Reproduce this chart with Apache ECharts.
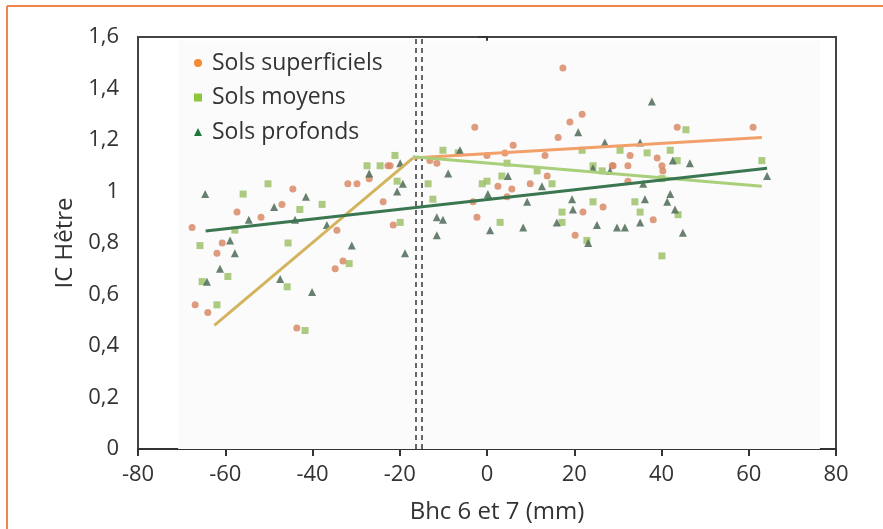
<!DOCTYPE html>
<html><head><meta charset="utf-8">
<script src="https://cdn.jsdelivr.net/npm/echarts@6/dist/echarts.min.js"></script>
<style>html,body{margin:0;padding:0;background:#fff}#c{width:883px;height:529px}</style>
</head><body><div id="c"></div>
<script>
// Tick labels
const xTicks = [-80, -60, -40, -20, 0, 20, 40, 60, 80];
const yTicks = [0, 0.2, 0.4, 0.6, 0.8, 1, 1.2, 1.4, 1.6];
const seriesNames = ['Sols superficiels', 'Sols moyens', 'Sols profonds'];

// Sols superficiels [Bhc, IC]
const superficiels = [
  [-44.5,1.01],[-47.0,0.95],[-57.3,0.92],[-51.8,0.90],[-67.6,0.86],[-34.4,0.85],[-60.7,0.80],
  [-61.9,0.76],[-33.0,0.73],[-34.8,0.70],[-66.9,0.56],[-64.0,0.53],[-43.6,0.47],[-31.9,1.03],
  [-29.8,1.03],[-27.0,1.05],[-22.7,1.10],[-23.8,0.96],[-21.5,0.87],[-13.1,1.12],[-11.5,1.11],
  [17.4,1.48],[-2.8,1.25],[21.8,1.30],[19.0,1.27],[16.3,1.21],[6.0,1.18],[13.3,1.14],[4.1,1.15],
  [0.0,1.14],[-22.2,1.10],[2.5,1.02],[5.7,1.01],[9.9,1.03],[13.8,1.06],[28.7,1.10],[32.3,1.10],
  [4.6,0.98],[-3.2,0.96],[26.6,0.94],[22.0,0.92],[-2.3,0.90],[20.2,0.83],[43.6,1.25],[61.0,1.25],
  [32.8,1.14],[39.0,1.13],[28.9,1.10],[40.1,1.10],[40.3,1.08],[32.3,1.04],[38.1,0.89]
];
// Sols moyens
const moyens = [
  [-55.9,0.99],[-50.2,1.03],[-37.8,0.95],[-42.9,0.93],[-57.8,0.85],[-45.6,0.80],[-65.8,0.79],
  [-31.6,0.72],[-59.4,0.67],[-65.3,0.65],[-45.8,0.63],[-61.9,0.56],[-41.7,0.46],[-27.5,1.10],
  [-24.5,1.10],[-21.1,1.14],[-20.6,1.04],[-19.9,0.88],[-13.5,1.03],[-12.4,0.97],[-6.6,1.15],
  [21.8,1.16],[-10.1,1.16],[4.6,1.11],[3.4,1.06],[0.0,1.04],[-1.1,1.03],[14.9,1.03],[11.5,1.08],
  [24.3,1.10],[24.3,0.96],[17.2,0.92],[3.0,0.88],[17.2,0.88],[22.9,0.81],[45.6,1.24],[30.5,1.16],
  [36.7,1.15],[42.0,1.16],[43.6,1.12],[63.0,1.12],[26.4,1.08],[40.1,1.05],[33.9,0.96],[35.1,0.92],
  [43.8,0.91],[40.1,0.75]
];
// Sols profonds
const profonds = [
  [-64.6,0.99],[-41.5,0.98],[-48.8,0.94],[-54.6,0.89],[-44.0,0.89],[-36.7,0.87],[-58.9,0.81],
  [-57.8,0.76],[-31.0,0.79],[-61.2,0.70],[-64.2,0.65],[-47.4,0.66],[-40.1,0.61],[-27.0,1.07],
  [-19.9,1.11],[-19.3,1.03],[-20.6,1.00],[-18.8,0.76],[-11.5,0.90],[-10.1,0.89],[-11.5,0.83],
  [-8.9,1.07],[20.9,1.23],[27.0,1.19],[-6.2,1.16],[4.8,1.06],[12.6,1.02],[24.3,1.09],[28.2,1.08],
  [0.2,0.99],[9.2,0.96],[19.5,0.97],[19.7,0.93],[16.0,0.88],[25.2,0.87],[29.8,0.86],[31.6,0.86],
  [0.7,0.85],[8.3,0.86],[23.2,0.80],[37.8,1.35],[35.1,1.19],[42.6,1.12],[46.5,1.11],[64.2,1.06],
  [35.8,1.03],[36.2,0.97],[42.0,0.99],[41.3,0.96],[43.1,0.93],[35.1,0.88],[44.9,0.84]
];

// Fitted lines
const segmentCommun = [[-62.5,0.48],[-17,1.13]];
const droiteSuperficiels = [[-17,1.13],[63,1.21]];
const droiteMoyens = [[-17,1.135],[63,1.02]];
const droiteProfonds = [[-64.5,0.847],[64.2,1.09]];
// Breakpoint (dashed lines)
const rupture = [-16.4, -15];

const FONT = 'Open Sans';
const fmt = v => String(+(+v).toFixed(1)).replace('.', ',');

const chart = echarts.init(document.getElementById('c'), null, {renderer: 'canvas'});
chart.setOption({
  animation: false,
  backgroundColor: '#fff',
  graphic: [
    {type: 'line', shape: {x1: 7, y1: 6, x2: 883, y2: 6}, style: {stroke: '#ef8548', lineWidth: 2}},
    {type: 'line', shape: {x1: 7, y1: 6, x2: 7, y2: 529}, style: {stroke: '#ef8548', lineWidth: 2}}
  ],
  grid: {left: 138, right: 47, top: 37, bottom: 80, show: true, borderColor: '#444', borderWidth: 2, backgroundColor: 'transparent'},
  legend: {
    orient: 'vertical', left: 189, top: 46, itemWidth: 8, itemHeight: 8, itemGap: 10.5,
    textStyle: {fontFamily: FONT, fontSize: 23, color: '#333', lineHeight: 24, padding: [0,0,0,5]},
    data: [
      {name: seriesNames[0], icon: 'circle', itemStyle: {color: '#f58a35', opacity: 1}},
      {name: seriesNames[1], icon: 'rect', itemStyle: {color: '#8dc63f', opacity: 1}},
      {name: seriesNames[2], icon: 'triangle', itemStyle: {color: '#1d7a3c', opacity: 1}}
    ]
  },
  xAxis: {
    type: 'value', min: xTicks[0], max: xTicks[xTicks.length-1], interval: 20,
    name: 'Bhc 6 et 7 (mm)', nameLocation: 'middle', nameGap: 51,
    nameTextStyle: {fontFamily: FONT, fontSize: 24, color: '#333', padding: [0,0,0,20]},
    axisLine: {show: true, onZero: false, lineStyle: {color: '#333', width: 2}},
    axisTick: {show: true, length: 7, lineStyle: {color: '#333', width: 2}},
    axisLabel: {fontFamily: FONT, fontSize: 22, color: '#333', margin: 15, formatter: fmt},
    splitLine: {show: false}
  },
  yAxis: {
    type: 'value', min: yTicks[0], max: yTicks[yTicks.length-1], interval: 0.2,
    name: 'IC Hêtre', nameLocation: 'middle', nameGap: 58,
    nameTextStyle: {fontFamily: FONT, fontSize: 24, color: '#333'},
    axisLine: {show: true, lineStyle: {color: '#333', width: 2}},
    axisTick: {show: true, length: 9, lineStyle: {color: '#333', width: 2}},
    axisLabel: {fontFamily: FONT, fontSize: 22, color: '#333', margin: 19, formatter: fmt},
    splitLine: {show: false}
  },
  series: [
    {name: seriesNames[0], type: 'scatter', data: superficiels, symbol: 'circle', symbolSize: 7,
     itemStyle: {color: '#d98a66', opacity: 0.85}, z: 3,
     markArea: {silent: true, itemStyle: {color: '#fbfbfb'}, data: [[{xAxis: -70.8, yAxis: 0}, {xAxis: 76.3, yAxis: 1.585}]]}},
    {name: seriesNames[1], type: 'scatter', data: moyens, symbol: 'rect', symbolSize: 7,
     itemStyle: {color: '#9dc26a', opacity: 0.85}, z: 3},
    {name: seriesNames[2], type: 'scatter', data: profonds, symbol: 'triangle', symbolSize: 8,
     itemStyle: {color: '#4d6a57', opacity: 0.85}, z: 3},
    {name: 'seg', type: 'line', data: segmentCommun, showSymbol: false, z: 5,
     lineStyle: {color: '#d3b45e', width: 3}},
    {name: 'ls', type: 'line', data: droiteSuperficiels, showSymbol: false, z: 5,
     lineStyle: {color: '#f2a06a', width: 3}},
    {name: 'lm', type: 'line', data: droiteMoyens, showSymbol: false, z: 5,
     lineStyle: {color: '#a9cf7a', width: 3}},
    {name: 'lp', type: 'line', data: droiteProfonds, showSymbol: false, z: 5,
     lineStyle: {color: '#3a7650', width: 3}},
    {name: 'rupture', type: 'line', data: [], z: 6,
     markLine: {silent: true, symbol: 'none', label: {show: false},
       lineStyle: {color: '#666', width: 2, type: [5, 4]},
       data: rupture.map(v => ({xAxis: v}))}}
  ]
});
</script></body></html>
